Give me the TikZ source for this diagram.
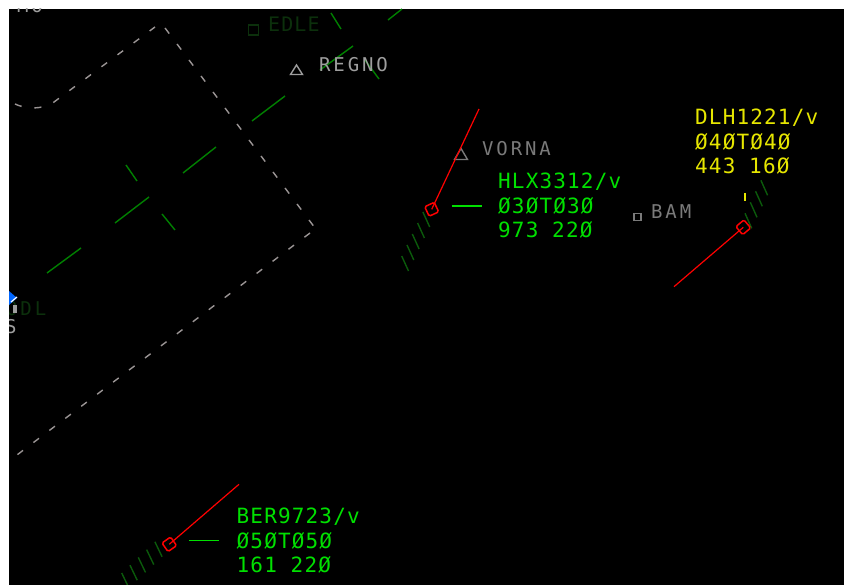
\documentclass[tikz,border=0pt]{standalone}
\usepackage{fontspec}
\usetikzlibrary{calc}
\newfontfamily\tagfont[LetterSpace=5.5]{DejaVu Sans Mono}
\newfontfamily\fixfont[LetterSpace=15]{DejaVu Sans Mono}
\definecolor{tagGreen}{HTML}{00E000}
\definecolor{tagYellow}{HTML}{E6E600}
\definecolor{airwayGreen}{HTML}{008000}
\definecolor{trailGreen}{HTML}{0B5A0B}
\definecolor{sectorGrey}{HTML}{9A9494}
\definecolor{fixDim}{HTML}{7A7A7A}
\definecolor{fixLight}{HTML}{9E9E9E}
\definecolor{fixDark}{HTML}{0C300C}
\tikzset{
  acft/.style={draw=red,line width=1.5pt,minimum size=10.5pt,inner sep=0pt,shape=rectangle,rounded corners=1.5pt},
  vector/.style={red,line width=1.2pt},
  leader/.style={tagGreen,line width=1.4pt},
  trail/.style={trailGreen,line width=1.4pt},
  airway/.style={airwayGreen,line width=1.4pt},
  sector/.style={sectorGrey,line width=1.4pt,dash pattern=on 7pt off 13pt},
  tagtext/.style={anchor=north west,inner sep=0pt,align=left,
    font=\tagfont\fontsize{21}{24.5}\selectfont},
  fixtext/.style={anchor=base west,inner sep=0pt,font=\fixfont\fontsize{19}{22}\selectfont},
  fixmark/.style={draw,line width=1.4pt,inner sep=0pt,minimum size=7pt,shape=rectangle}
}
\begin{document}
\begin{tikzpicture}[x=1pt,y=-1pt]
\useasboundingbox (0,0) rectangle (844,585);
\fill[white] (0,0) rectangle (844,585);
\fill[black] (9,9) rectangle (844,585);
\begin{scope}
\clip (9,9) rectangle (844,585);
\draw[sector] (15,104) .. controls (24,108) and (34,110) .. (50,105) -- (155,27);
\draw[sector] (165,28) -- (315,228);
\draw[sector] (310,233) -- (13,458);
\foreach \xa/\ya/\xb/\yb in {47/273/81/248,115/223/149/197,183/173/216/147,252/121/285/96,320/70/353/46,388/20/402/9,
  126/165/137/181,162/214/175/230,331/13/341/29,365/60/379/79}
  \draw[airway] (\xa,\ya) -- (\xb,\yb);
\node[fixmark,draw=fixDark,minimum size=10pt] (edleMark) at (253.5,30) {};
\node[fixtext,font=\tagfont\fontsize{20}{22}\selectfont,text=fixDark] (edle) at (268,31.5) {EDLE};
\node[fixtext,text=fixLight] (regno) at (319,71.5) {REGNO};
\draw[fixLight,line width=1.4pt] (290.5,74.5) -- (296.5,65) -- (302.5,74.5) -- cycle;
\node[fixtext,text=fixDim] (vorna) at (482,155.5) {VORNA};
\draw[fixDim,line width=1.4pt] (454.5,159.5) -- (461,148.5) -- (467.5,159.5) -- cycle;
\node[fixmark,draw=fixDim] (bamMark) at (637.5,217) {};
\node[fixtext,text=fixDim] (bam) at (651,219) {BAM};
\node[fixtext,text=fixLight] (mo) at (17,13) {MO};
\node[fixtext,text=fixDark] (odl) at (6,315.5) {ODL};
\node[fixtext,text=fixLight] (s) at (5,334) {S};
\fill[fixLight] (13,305) rectangle (16.5,313);
\fill[blue!60!cyan] (9,291) -- (17,298) -- (9,305) -- cycle;
\draw[white,line width=1.2pt] (11,302) -- (17,297);
\foreach \i in {0,...,4}
  \draw[trail] ({401.7+5.3*\i},{256-11*\i}) -- ++(6.8,15);
\foreach \i in {0,...,3}
  \draw[trail] ({745+5.3*\i},{213.3-11*\i}) -- ++(6.7,15);
\foreach \i in {0,...,4}
  \draw[trail] ({121.7+8.3*\i},{573-7.8*\i}) -- ++(7.2,15);
\node[acft,rotate=25] (hlx) at (431.7,209.3) {};
\coordinate (hlxEnd) at (479,109);
\draw[vector] (hlx.center) -- (hlxEnd);
\coordinate (hlxLeadA) at (451.7,206);
\coordinate (hlxLeadB) at (481.7,206);
\draw[leader] (hlxLeadA) -- (hlxLeadB);
\node[tagtext,text=tagGreen] (hlxTag) at (498,173) {HLX3312/v\\Ø3ØTØ3Ø\\973 22Ø};
\node[acft,rotate=40] (dlh) at (743.3,227.3) {};
\coordinate (dlhEnd) at (674,286.7);
\draw[vector] (dlh.center) -- (dlhEnd);
\coordinate (dlhLeadA) at (745,193);
\coordinate (dlhLeadB) at (745,200.7);
\draw[tagYellow,line width=1.4pt] (dlhLeadA) -- (dlhLeadB);
\node[tagtext,text=tagYellow] (dlhTag) at (695,109) {DLH1221/v\\Ø4ØTØ4Ø\\443 16Ø};
\node[acft,rotate=35] (ber) at (169.3,544.3) {};
\coordinate (berEnd) at (239,484.3);
\draw[vector] (ber.center) -- (berEnd);
\coordinate (berLeadA) at (189.3,540.7);
\coordinate (berLeadB) at (219.3,540.7);
\draw[leader] (berLeadA) -- (berLeadB);
\node[tagtext,text=tagGreen] (berTag) at (236.5,508) {BER9723/v\\Ø5ØTØ5Ø\\161 22Ø};
\end{scope}
\end{tikzpicture}
\end{document}
